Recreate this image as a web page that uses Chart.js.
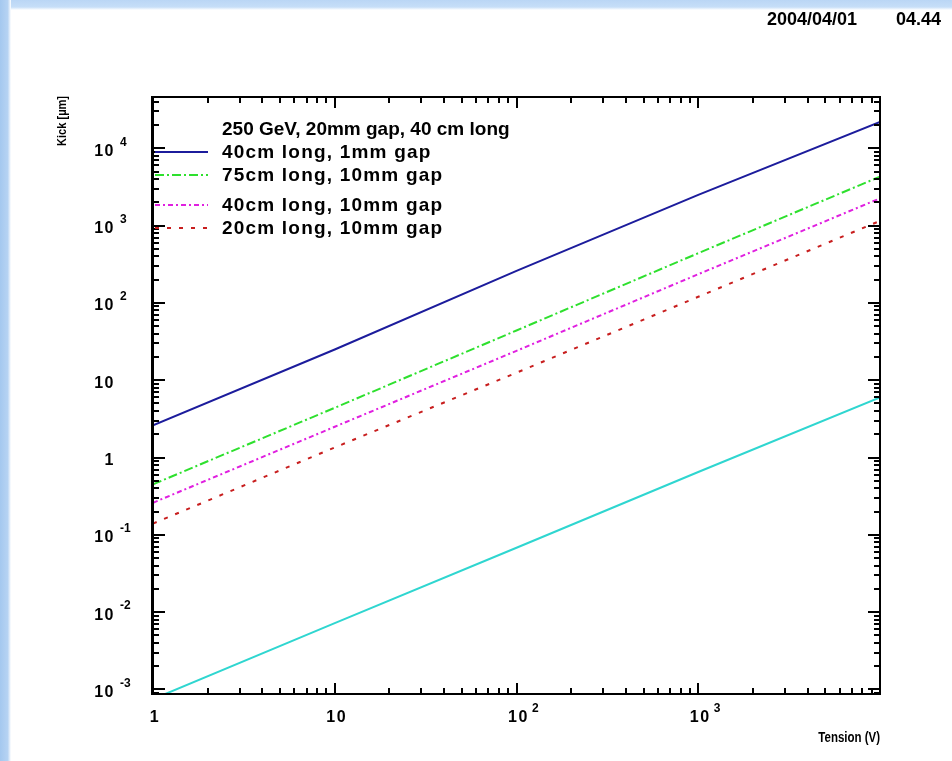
<!DOCTYPE html>
<html>
<head>
<meta charset="utf-8">
<title>Kick vs Tension</title>
<script src="https://cdn.jsdelivr.net/npm/chart.js@4.4.1/dist/chart.umd.min.js"></script>
<style>
  html, body { margin: 0; padding: 0; background: #ffffff; }
  #wrap { width: 952px; height: 761px; position: relative; }
  canvas { display: block; }
</style>
</head>
<body>
<div id="wrap"><canvas id="c" width="952" height="761"></canvas></div>
<script>
// Tension (V) sample points and kick (µm) for each configuration
const tension = [1, 10, 100, 1000, 10000];
const kick40cm1mm = [2.6, 25, 260, 2500, 22000];
const kick75cm10mm = [0.45, 4.4, 44, 440, 4300];
const kick40cm10mm = [0.26, 2.5, 24, 235, 2250];
const kick20cm10mm = [0.14, 1.35, 12.5, 120, 1150];
const kickReference = [0.00075, 0.0072, 0.068, 0.65, 6.0];

const seriesLabels = ['40cm long, 1mm gap', '75cm long, 10mm gap', '40cm long, 10mm gap', '20cm long, 10mm gap', ''];
const legendTitle = '250 GeV, 20mm gap, 40 cm long';
const xTickExponents = [0, 1, 2, 3];
const yTickExponents = [-3, -2, -1, 0, 1, 2, 3, 4];
const xTitle = 'Tension (V)';
const yTitle = 'Kick [\u00b5m]';
const stampDate = '2004/04/01';
const stampTime = '04.44';

const xRange = [1, 10000];
const yRange = [8.73e-4, 4.61e4];

const pts = arr => tension.map((t, i) => ({ x: t, y: arr[i] }));

const FONT = '"Liberation Sans", Arial, sans-serif';

// legend rows: vertical centre of each row
const legendRows = [152, 175, 205, 228];

function drawPower(ctx, exp, x, y, align) {
  const base = exp === 0 ? '1' : '10';
  const sup = (exp === 0 || exp === 1) ? '' : String(exp);
  ctx.save();
  ctx.font = 'bold 16px ' + FONT;
  ctx.letterSpacing = '1.5px';
  ctx.textBaseline = 'middle';
  const bw = ctx.measureText(base).width;
  const bx = align === 'right' ? x - bw : x - bw / 2;
  ctx.textAlign = 'left';
  ctx.fillText(base, bx, y);
  if (sup) {
    ctx.font = 'bold 12px ' + FONT;
    ctx.letterSpacing = '0px';
    ctx.fillText(sup, bx + bw + (align === 'right' ? 5 : 3), y - 9);
  }
  ctx.restore();
}

const paw = {
  id: 'paw',
  beforeDraw(chart) {
    const { ctx, width, height } = chart;
    ctx.save();
    ctx.fillStyle = '#ffffff';
    ctx.fillRect(0, 0, width, height);
    let g = ctx.createLinearGradient(0, 0, 0, 10);
    g.addColorStop(0, '#bad6f5');
    g.addColorStop(0.7, '#c6def8');
    g.addColorStop(1, '#ffffff');
    ctx.fillStyle = g;
    ctx.fillRect(0, 0, width, 10);
    g = ctx.createLinearGradient(0, 0, 11, 0);
    g.addColorStop(0, '#a4c8ef');
    g.addColorStop(0.7, '#b6d3f3');
    g.addColorStop(1, '#ffffff');
    ctx.fillStyle = g;
    ctx.fillRect(0, 0, 11, height);
    ctx.restore();
  },
  afterDatasetsDraw(chart) {
    const { ctx, chartArea: a, scales } = chart;
    const xs = scales.x, ys = scales.y;
    ctx.save();
    ctx.strokeStyle = '#000';
    ctx.fillStyle = '#000';

    // frame
    ctx.lineWidth = 2;
    ctx.strokeRect(a.left, a.top, a.right - a.left, a.bottom - a.top);
    ctx.lineWidth = 3;
    ctx.beginPath();
    ctx.moveTo(a.left - 0.5, a.top - 1);
    ctx.lineTo(a.left - 0.5, a.bottom + 1);
    ctx.stroke();

    // ticks on all four sides
    ctx.lineWidth = 2;
    ctx.beginPath();
    for (let e = -4; e <= 4; e++) {
      for (let m = 1; m <= 9; m++) {
        const v = m * Math.pow(10, e);
        if (v < yRange[0] || v > yRange[1]) continue;
        const py = Math.round(ys.getPixelForValue(v));
        const len = m === 1 ? 12 : 6;
        ctx.moveTo(a.left, py); ctx.lineTo(a.left + len, py);
        ctx.moveTo(a.right, py); ctx.lineTo(a.right - len, py);
      }
    }
    for (let e = 0; e <= 4; e++) {
      for (let m = 1; m <= 9; m++) {
        const v = m * Math.pow(10, e);
        if (v < xRange[0] || v > xRange[1]) continue;
        const px = Math.round(xs.getPixelForValue(v));
        const len = m === 1 ? 11 : 6;
        ctx.moveTo(px, a.bottom); ctx.lineTo(px, a.bottom - len);
        ctx.moveTo(px, a.top); ctx.lineTo(px, a.top + len);
      }
    }
    ctx.stroke();

    // tick labels
    yTickExponents.forEach(e => {
      const py = ys.getPixelForValue(Math.pow(10, e));
      drawPower(ctx, e, 115, py + 3, 'right');
    });
    xTickExponents.forEach(e => {
      const px = xs.getPixelForValue(Math.pow(10, e));
      drawPower(ctx, e, px + 2, 718, 'center');
    });

    // axis titles
    ctx.font = 'bold 14px ' + FONT;
    ctx.textBaseline = 'middle';
    ctx.save();
    ctx.translate(a.right, 738);
    ctx.scale(0.82, 1);
    ctx.textAlign = 'right';
    ctx.fillText(xTitle, 0, 0);
    ctx.restore();

    ctx.save();
    ctx.translate(62, 96);
    ctx.rotate(-Math.PI / 2);
    ctx.scale(0.85, 1);
    ctx.font = 'bold 13px ' + FONT;
    ctx.textAlign = 'right';
    ctx.fillText(yTitle, 0, 0);
    ctx.restore();

    // date and time stamp
    ctx.font = 'bold 18px ' + FONT;
    ctx.textAlign = 'left';
    ctx.fillText(stampDate, 767, 20);
    ctx.fillText(stampTime, 896, 20);

    // legend
    ctx.font = 'bold 19px ' + FONT;
    ctx.textAlign = 'left';
    ctx.fillText(legendTitle, 222, 130);
    chart.data.datasets.forEach((ds, i) => {
      if (!ds.label) return;
      const y = legendRows[i];
      ctx.save();
      ctx.strokeStyle = ds.borderColor;
      ctx.lineWidth = ds.borderWidth;
      ctx.setLineDash(ds.borderDash || []);
      ctx.beginPath();
      ctx.moveTo(a.left + 2, y);
      ctx.lineTo(208, y);
      ctx.stroke();
      ctx.restore();
      ctx.save();
      ctx.font = 'bold 19px ' + FONT;
      ctx.letterSpacing = '1.2px';
      ctx.fillStyle = '#000';
      ctx.fillText(ds.label, 222, y + 1);
      ctx.restore();
    });
    ctx.restore();
  }
};

const colours = ['#1c1c9c', '#2ee02e', '#e020e0', '#c81e1e', '#2fd6d0'];
const dashes = [[], [9, 3, 2, 3], [5, 3, 2, 3], [4, 8], []];
const series = [kick40cm1mm, kick75cm10mm, kick40cm10mm, kick20cm10mm, kickReference];

new Chart(document.getElementById('c'), {
  type: 'line',
  data: {
    datasets: series.map((s, i) => ({
      label: seriesLabels[i],
      data: pts(s),
      borderColor: colours[i],
      borderWidth: 2,
      borderDash: dashes[i],
      pointRadius: 0,
      fill: false,
      tension: 0
    }))
  },
  options: {
    responsive: false,
    animation: false,
    devicePixelRatio: 1,
    layout: { padding: { left: 153, top: 97, right: 72, bottom: 67 } },
    scales: {
      x: { type: 'logarithmic', min: xRange[0], max: xRange[1], display: false },
      y: { type: 'logarithmic', min: yRange[0], max: yRange[1], display: false }
    },
    plugins: {
      legend: { display: false },
      tooltip: { enabled: false }
    }
  },
  plugins: [paw]
});
</script>
</body>
</html>
